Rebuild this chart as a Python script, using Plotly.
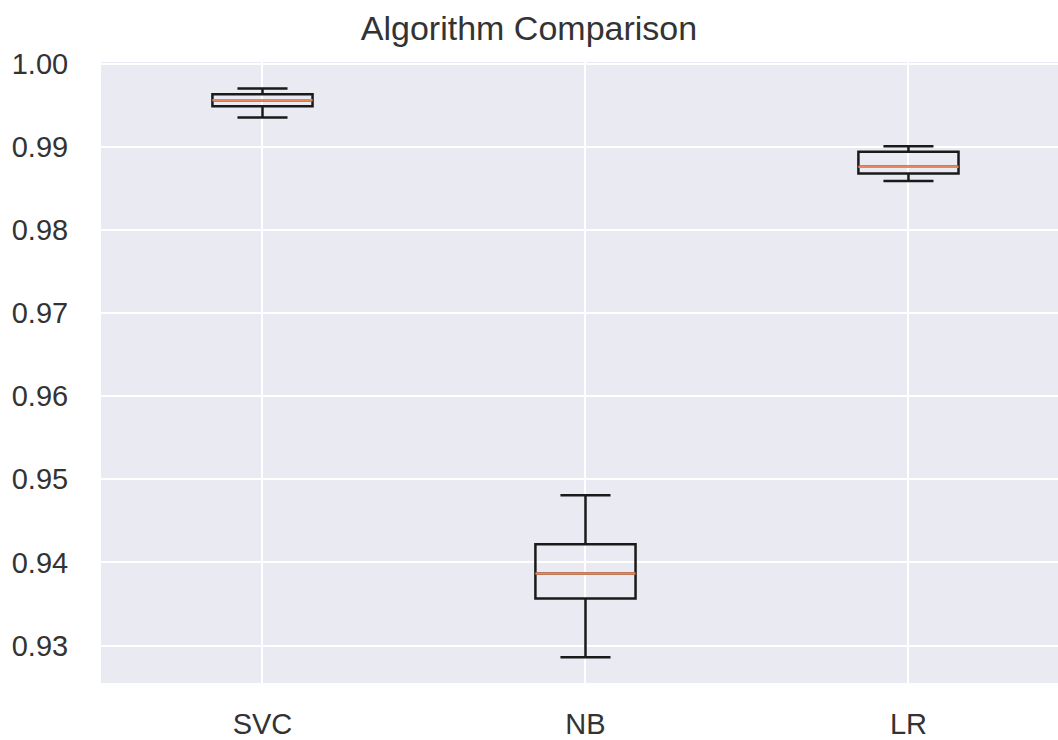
import plotly.graph_objects as go

models = ["SVC", "NB", "LR"]
lower_whisker = [0.99352, 0.92860, 0.98588]
q1_vals = [0.99488, 0.93567, 0.98680]
medians = [0.99560, 0.93867, 0.98760]
q3_vals = [0.99632, 0.94220, 0.98940]
upper_whisker = [0.99700, 0.94808, 0.99008]

font_family = "Liberation Sans, Arial, sans-serif"
text_color = "#333333"
box_width = 0.31

fig = go.Figure()
fig.add_trace(go.Box(
    x=models, q1=q1_vals, median=medians, q3=q3_vals,
    lowerfence=lower_whisker, upperfence=upper_whisker,
    width=box_width, whiskerwidth=0.5,
    fillcolor="rgba(0,0,0,0)",
    line=dict(color="#1a1a1a", width=2.5),
    boxpoints=False, hoverinfo="skip", showlegend=False,
))
fig.add_trace(go.Box(
    x=models, q1=medians, median=medians, q3=medians,
    lowerfence=medians, upperfence=medians,
    width=box_width, whiskerwidth=0,
    fillcolor="rgba(0,0,0,0)",
    line=dict(color="#E8875A", width=2.5),
    boxpoints=False, hoverinfo="skip", showlegend=False,
))

fig.update_layout(
    width=1058, height=740,
    margin=dict(l=101, r=0, t=62, b=57),
    paper_bgcolor="white",
    plot_bgcolor="#EAEAF2",
    boxmode="overlay",
    font=dict(family=font_family, color=text_color),
    title=dict(text="Algorithm Comparison", x=0.5, xanchor="center",
               y=1 - 28 / 740, yanchor="middle", yref="container",
               font=dict(size=34, color=text_color, family=font_family)),
)
fig.update_xaxes(
    type="category", range=[-0.5, 2.463],
    showgrid=True, gridcolor="white", gridwidth=2,
    zeroline=False, showline=False,
    tickfont=dict(size=29, color=text_color),
    ticks="outside", ticklen=15, tickcolor="rgba(0,0,0,0)",
)
fig.update_yaxes(
    range=[0.9255, 1.0002],
    tickvals=[0.93, 0.94, 0.95, 0.96, 0.97, 0.98, 0.99, 1.00],
    tickformat=".2f",
    showgrid=True, gridcolor="white", gridwidth=2,
    zeroline=False, showline=False,
    tickfont=dict(size=29, color=text_color),
    ticks="outside", ticklen=26, tickcolor="rgba(0,0,0,0)",
)

fig.write_html("out.html")
